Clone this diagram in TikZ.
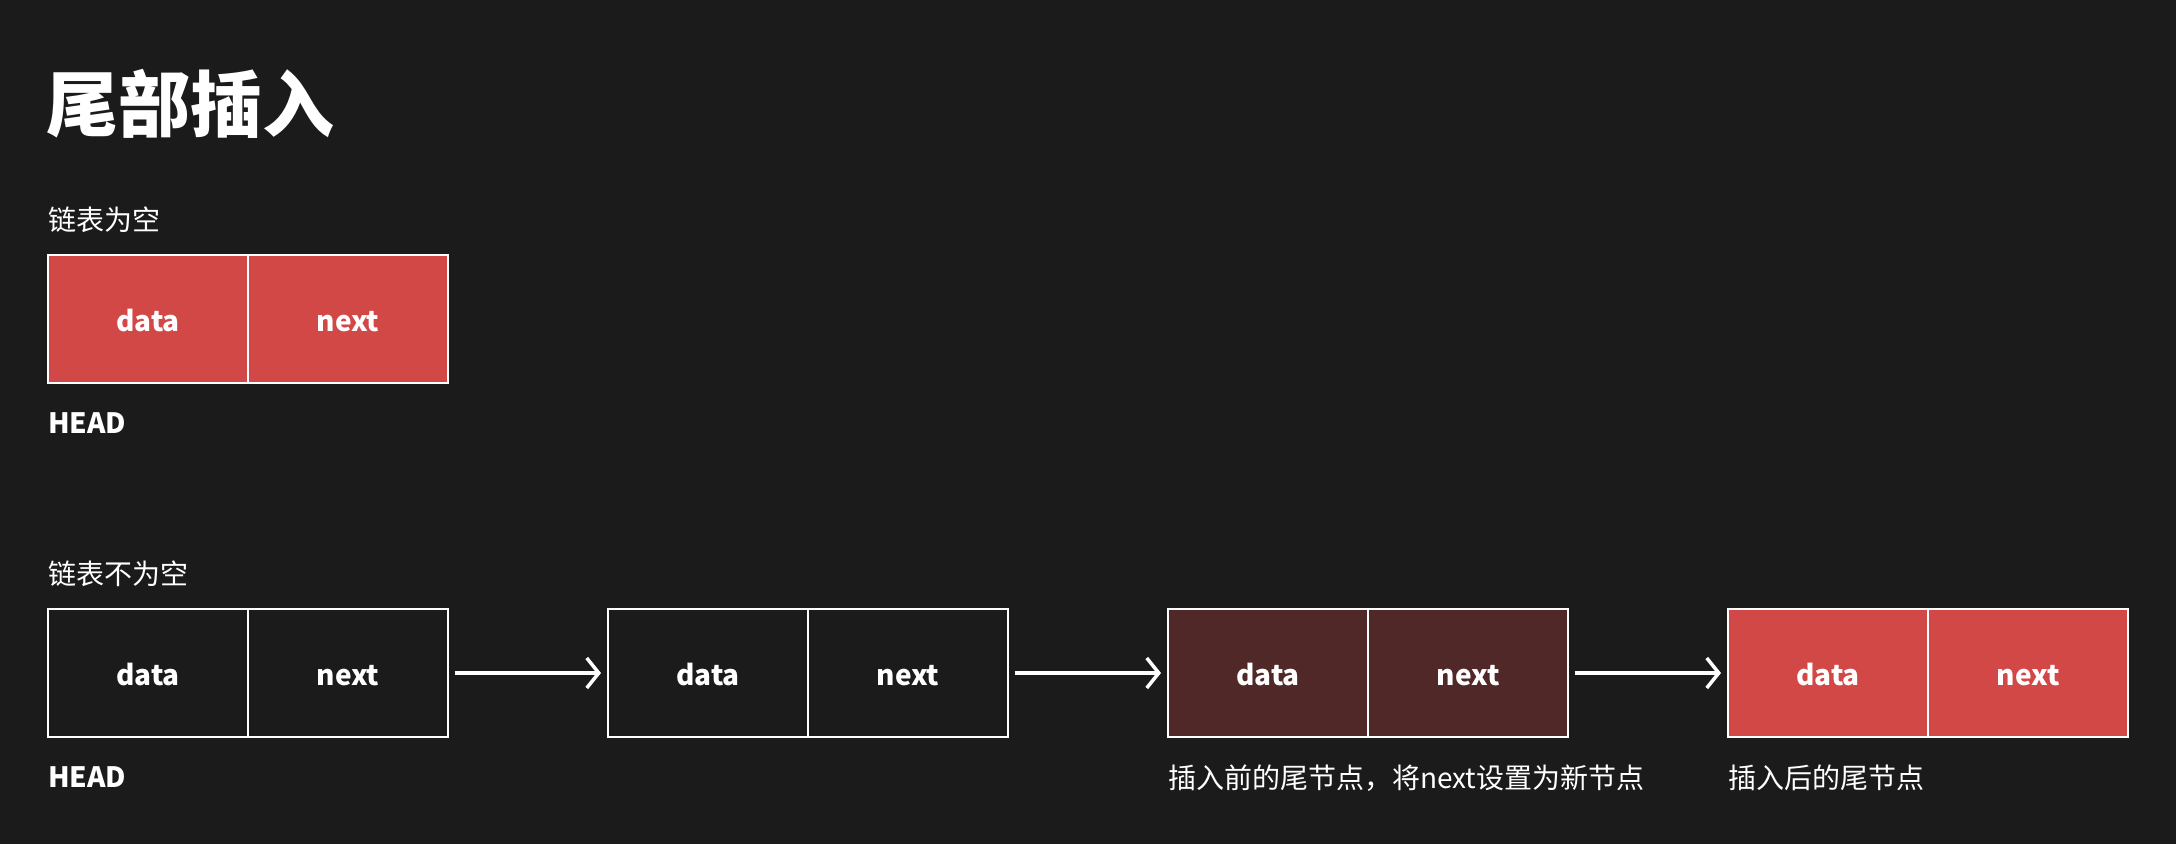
\documentclass[tikz,border=0pt]{standalone}
\usepackage{fontspec}
\setmainfont{Noto Sans CJK SC}
\usetikzlibrary{arrows.meta}
\definecolor{bg}{HTML}{1B1B1B}
\definecolor{hotred}{HTML}{D24846}
\definecolor{darkred}{HTML}{512828}
\begin{document}
\begin{tikzpicture}[x=1pt,y=-1pt,
  cell/.style={draw=white,line width=2pt,minimum width=200pt,minimum height=128pt,inner sep=0pt,outer sep=0pt,
    text=white,text height=26pt,text depth=2pt,font=\fontsize{28}{32}\selectfont\bfseries},
  plainc/.style={cell,fill=bg},
  redc/.style={cell,fill=hotred},
  darkc/.style={cell,fill=darkred},
  lbl/.style={anchor=base west,inner sep=0pt,text=white,font=\fontsize{28}{32}\selectfont},
  blbl/.style={lbl,font=\fontsize{28}{32}\selectfont\bfseries},
  link/.style={draw=white,line width=3.5pt,-{Straight Barb[length=12pt,width=30pt,line width=3.5pt]},shorten <=7pt,shorten >=7pt}]
\fill[bg] (0,0) rectangle (2176,844);
\useasboundingbox (0,0) rectangle (2176,844);
\node[anchor=base west,inner sep=0pt,text=white,font=\fontsize{72}{80}\selectfont\bfseries] (title) at (46,131) {尾部插入};
% empty list
\node[lbl] (sub1) at (48,230) {链表为空};
\node[redc,anchor=north west] (e0d) at (48,255) {data};
\node[redc,anchor=west] (e0n) at (e0d.east) {next};
\node[blbl] (head1) at (48,433) {HEAD};
% non-empty list
\node[lbl] (sub2) at (48,584) {链表不为空};
\node[plainc,anchor=north west] (n1d) at (48,609) {data};
\node[plainc,anchor=west] (n1n) at (n1d.east) {next};
\node[plainc,anchor=north west] (n2d) at (608,609) {data};
\node[plainc,anchor=west] (n2n) at (n2d.east) {next};
\node[darkc,anchor=north west] (n3d) at (1168,609) {data};
\node[darkc,anchor=west] (n3n) at (n3d.east) {next};
\node[redc,anchor=north west] (n4d) at (1728,609) {data};
\node[redc,anchor=west] (n4n) at (n4d.east) {next};
\draw[link] (n1n.east) -- (n2d.west);
\draw[link] (n2n.east) -- (n3d.west);
\draw[link] (n3n.east) -- (n4d.west);
\node[blbl] (head2) at (48,787) {HEAD};
\node[lbl] (l3) at (1168,788) {插入前的尾节点，将next设置为新节点};
\node[lbl] (l4) at (1728,788) {插入后的尾节点};
\end{tikzpicture}
\end{document}
